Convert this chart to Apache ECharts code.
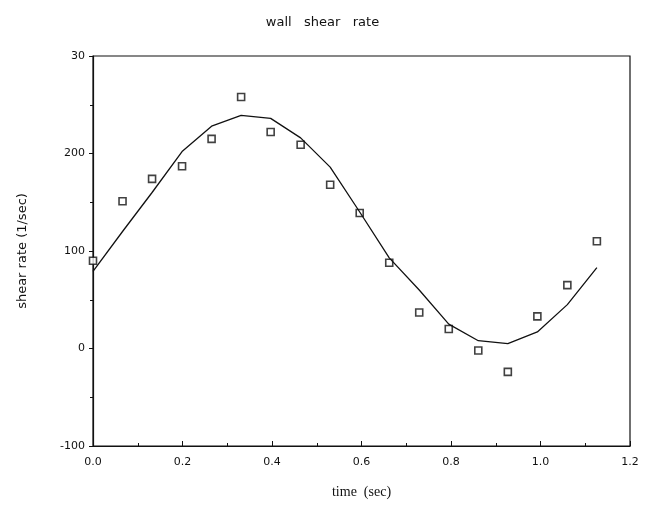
<!DOCTYPE html>
<html>
<head>
<meta charset="utf-8">
<script src="https://cdn.jsdelivr.net/npm/echarts@6/dist/echarts.min.js"></script>
<style>
  html, body { margin: 0; padding: 0; background: #fff; }
  #chart { width: 645px; height: 509px; }
</style>
</head>
<body>
<div id="chart"></div>
<script>
// measured points (time in sec, shear rate in 1/sec)
const timeSec = [0.0, 0.066, 0.132, 0.199, 0.265, 0.331, 0.397, 0.464, 0.53,
  0.596, 0.662, 0.729, 0.795, 0.861, 0.927, 0.993, 1.06, 1.126]
const measured = [90, 151, 174, 187, 215, 258, 222, 209, 168,
  139, 88, 37, 20, -2, -24, 33, 65, 110]
// fitted curve, same time steps
const fitted = [79, 120, 160, 202, 228, 239, 236, 216, 186,
  140, 93, 60, 25, 8, 5, 17, 45, 83]
const yTicks = { '-100': '-100', '0': '0', '100': '100', '200': '200', '300': '30' }

const chart = echarts.init(document.getElementById('chart'))

const pair = (ys) => timeSec.map((t, i) => [t, ys[i]])

chart.setOption({
  animation: false,
  backgroundColor: '#fff',
  title: {
    text: 'wall   shear   rate',
    left: 'center',
    top: 11,
    textStyle: { fontFamily: 'DejaVu Sans', fontSize: 13, fontWeight: 'normal', color: '#111' }
  },
  grid: { left: 93, right: 15, top: 56, bottom: 63, show: true, borderColor: '#111', borderWidth: 1.2 },
  xAxis: {
    type: 'value',
    min: 0, max: 1.2, interval: 0.2,
    name: 'time  (sec)',
    nameLocation: 'middle',
    nameGap: 39,
    nameTextStyle: { fontFamily: 'Liberation Serif', fontSize: 14, color: '#111' },
    axisLine: { onZero: false, lineStyle: { color: '#111', width: 1.2 } },
    axisTick: { inside: true, length: 5, lineStyle: { color: '#111' } },
    minorTick: { show: true, splitNumber: 2, length: 3, lineStyle: { color: '#111' } },
    axisLabel: { formatter: (v) => v.toFixed(1), fontFamily: 'DejaVu Sans', fontSize: 11, color: '#111', margin: 11 },
    splitLine: { show: false }
  },
  yAxis: {
    type: 'value',
    min: -100, max: 300, interval: 100,
    name: 'shear rate (1/sec)',
    nameLocation: 'middle',
    nameGap: 64,
    nameTextStyle: { fontFamily: 'DejaVu Sans', fontSize: 13, color: '#111' },
    axisLine: { onZero: false, lineStyle: { color: '#111', width: 1.2 } },
    axisTick: { length: 4, lineStyle: { color: '#111' } },
    minorTick: { show: true, splitNumber: 2, length: 3, lineStyle: { color: '#111' } },
    axisLabel: { formatter: (v) => yTicks[String(v)], fontFamily: 'DejaVu Sans', fontSize: 11, color: '#111', margin: 8 },
    splitLine: { show: false }
  },
  series: [
    {
      name: 'fit',
      type: 'line',
      data: pair(fitted),
      showSymbol: false,
      lineStyle: { color: '#111', width: 1.3 }
    },
    {
      name: 'measured',
      type: 'scatter',
      data: pair(measured),
      symbol: 'rect',
      symbolSize: 7,
      itemStyle: { color: '#fff', borderColor: '#111', borderWidth: 1.6 }
    }
  ]
})
</script>
</body>
</html>
